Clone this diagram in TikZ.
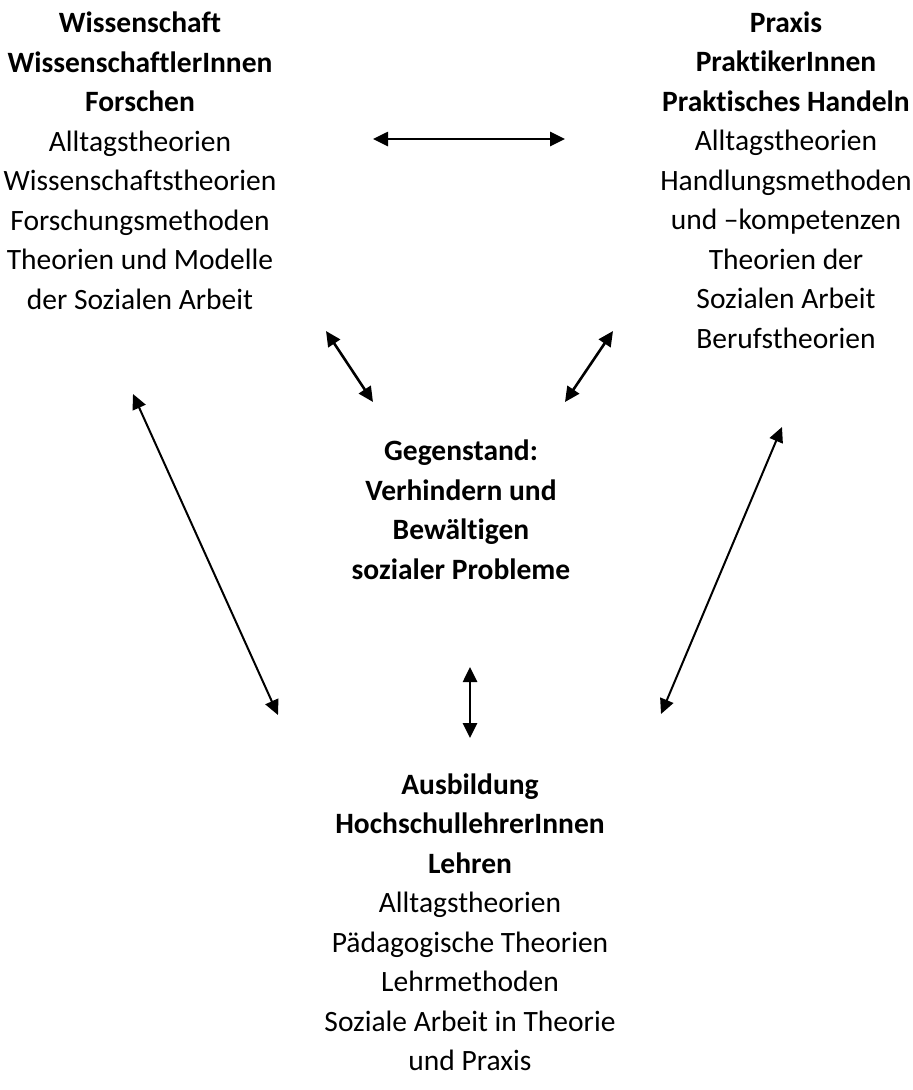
\documentclass[tikz,border=0pt]{standalone}
\usepackage{fontspec}
\setmainfont{Carlito}[Ligatures={NoCommon}]
\usetikzlibrary{arrows.meta}
\tikzset{
  block/.style={align=center, inner sep=0pt, anchor=base, font=\fontsize{29.5}{39.5}\selectfont},
  link/.style={{Triangle[length=15pt,width=14pt]}-{Triangle[length=15pt,width=14pt]}, line width=2.6pt},
  longlink/.style={link, line width=2pt}
}
\begin{document}
\begin{tikzpicture}[x=1pt,y=-1pt]
\useasboundingbox (0,0) rectangle (913,1090);
% anchor=base is the baseline of the last line of each block
\node[block] (wiss) at (140,309) {\textbf{Wissenschaft}\\\textbf{WissenschaftlerInnen}\\\textbf{Forschen}\\Alltagstheorien\\Wissenschaftstheorien\\Forschungsmethoden\\Theorien und Modelle\\der Sozialen Arbeit};
\node[block] (prax) at (786,348) {\textbf{Praxis}\\\textbf{PraktikerInnen}\\\textbf{Praktisches Handeln}\\Alltagstheorien\\Handlungsmethoden\\und –kompetenzen\\Theorien der\\Sozialen Arbeit\\Berufstheorien};
\node[block] (geg) at (461,579) {\textbf{Gegenstand:}\\\textbf{Verhindern und}\\\textbf{Bewältigen}\\\textbf{sozialer Probleme}};
\node[block] (ausb) at (470,1070.5) {\textbf{Ausbildung}\\\textbf{HochschullehrerInnen}\\\textbf{Lehren}\\Alltagstheorien\\Pädagogische Theorien\\Lehrmethoden\\Soziale Arbeit in Theorie\\und Praxis};
\coordinate (h1) at (373,139); \coordinate (h2) at (565,139);
\coordinate (sl1) at (326,331); \coordinate (sl2) at (373,402);
\coordinate (sr1) at (613,331); \coordinate (sr2) at (565,402);
\coordinate (ll1) at (133,394); \coordinate (ll2) at (278,715);
\coordinate (lr1) at (782,427); \coordinate (lr2) at (661,714);
\coordinate (v1) at (470,667); \coordinate (v2) at (470,738);
\draw[link] (h1) -- (h2);
\draw[link] (sl1) -- (sl2);
\draw[link] (sr1) -- (sr2);
\draw[longlink] (ll1) -- (ll2);
\draw[longlink] (lr1) -- (lr2);
\draw[link] (v1) -- (v2);
\end{tikzpicture}
\end{document}
